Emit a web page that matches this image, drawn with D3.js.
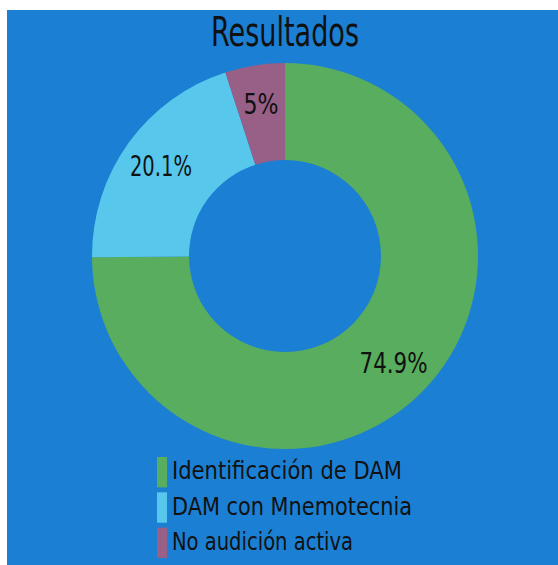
<!DOCTYPE html>
<html>
<head>
<meta charset="utf-8">
<script src="https://cdn.jsdelivr.net/npm/d3@7"></script>
<style>
  html, body { margin: 0; padding: 0; background: #ffffff; }
  svg { display: block; }
  text { font-family: "Liberation Sans Narrow", "DejaVu Sans Condensed", "Lato", sans-serif; fill: #111; }
</style>
</head>
<body>
<svg id="chart" width="558" height="565"></svg>
<script>
// Survey results
const categories = ["Identificación de DAM", "DAM con Mnemotecnia", "No audición activa"];
const values = [74.9, 20.1, 5];
const valueLabels = ["74.9%", "20.1%", "5%"];
const colors = ["#58ad5e", "#57c8ec", "#985f87"];
const title = "Resultados";

const svg = d3.select("#chart");
const W = 558, H = 565;

// panel background
svg.append("rect")
  .attr("x", 7).attr("y", 10)
  .attr("width", W - 7).attr("height", H - 10)
  .attr("fill", "#1b7fd3");

// title
svg.append("text")
  .attr("x", 285).attr("y", 46)
  .attr("text-anchor", "middle")
  .attr("font-size", 40)
  .attr("textLength", 148)
  .attr("lengthAdjust", "spacingAndGlyphs")
  .text(title);

// doughnut
const cx = 285, cy = 256, outerR = 193, innerR = 96, labelR = 153;
const color = d3.scaleOrdinal().domain(categories).range(colors);
const pie = d3.pie().sort(null).value(d => d.value);
const data = categories.map((c, i) => ({ cat: c, value: values[i], label: valueLabels[i] }));
const arcs = pie(data);
const arc = d3.arc().innerRadius(innerR).outerRadius(outerR);
const labelArc = d3.arc().innerRadius(labelR).outerRadius(labelR);

const g = svg.append("g").attr("transform", `translate(${cx},${cy})`);
g.selectAll("path.slice")
  .data(arcs)
  .join("path")
  .attr("class", "slice")
  .attr("d", arc)
  .attr("fill", d => color(d.data.cat));

const labelWidths = [68, 62, 35];
g.selectAll("text.val")
  .data(arcs)
  .join("text")
  .attr("class", "val")
  .attr("transform", d => `translate(${labelArc.centroid(d)})`)
  .attr("text-anchor", "middle")
  .attr("dominant-baseline", "central")
  .attr("font-size", 28)
  .attr("textLength", (d, i) => labelWidths[i])
  .attr("lengthAdjust", "spacingAndGlyphs")
  .text(d => d.data.label);

// legend
const legendY = d3.scaleBand().domain(categories).range([457, 558]).paddingInner(0.14);
const legendWidths = [230, 240, 181];
const lg = svg.append("g");
const rows = lg.selectAll("g.row").data(categories).join("g").attr("class", "row");
rows.append("rect")
  .attr("x", 157)
  .attr("y", d => legendY(d))
  .attr("width", 10)
  .attr("height", legendY.bandwidth())
  .attr("fill", d => color(d));
rows.append("text")
  .attr("x", 172)
  .attr("y", d => legendY(d) + legendY.bandwidth() / 2 + 7)
  .attr("font-size", 24)
  .attr("textLength", (d, i) => legendWidths[i])
  .attr("lengthAdjust", "spacingAndGlyphs")
  .text(d => d);
</script>
</body>
</html>
